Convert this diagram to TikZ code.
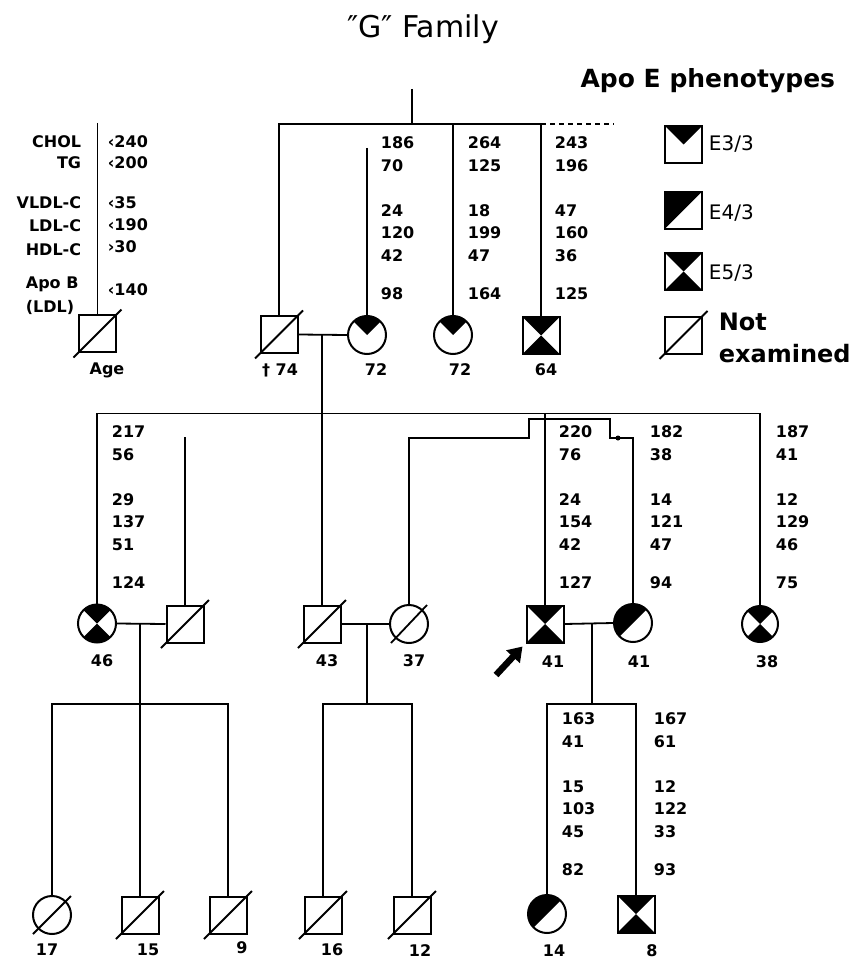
\documentclass[tikz,border=0pt]{standalone}
\usepackage{fontspec}
\setmainfont{DejaVu Sans}
\usetikzlibrary{arrows.meta}
\newcommand\vals[9]{%
  \node[num] (#1a) at (#2,#3) {#4};
  \node[num] (#1b) at (#2,#3+23) {#5};
  \node[num] (#1c) at (#2,#3+68) {#6};
  \node[num] (#1d) at (#2,#3+90) {#7};
  \node[num] (#1e) at (#2,#3+113) {#8};
  \node[num] (#1f) at (#2,#3+151) {#9};}
\begin{document}
\begin{tikzpicture}[x=1pt,y=-1pt,line width=1.8pt,
  sq/.style={draw, rectangle, minimum size=37pt, inner sep=0pt, line width=2pt},
  ci/.style={draw, circle, minimum size=38pt, inner sep=0pt, line width=2pt},
  eA/.style={path picture={\fill[black] (path picture bounding box.north west) -- (path picture bounding box.north east) -- (path picture bounding box.center) -- cycle;}},
  eB/.style={path picture={\fill[black] (path picture bounding box.north west) -- (path picture bounding box.north east) -- (path picture bounding box.south west) -- cycle;}},
  eC/.style={path picture={\fill[black] (path picture bounding box.north west) -- (path picture bounding box.north east) -- (path picture bounding box.center) -- cycle;
     \fill[black] (path picture bounding box.south west) -- (path picture bounding box.south east) -- (path picture bounding box.center) -- cycle;}},
  num/.style={anchor=west, inner sep=0pt, font=\fontsize{16}{19}\selectfont\bfseries, text height=11.7pt, text depth=0pt},
  lbl/.style={inner sep=0pt, font=\fontsize{16}{19}\selectfont\bfseries, text height=11.7pt, text depth=0pt},
  leg/.style={anchor=west, inner sep=0pt, font=\fontsize{20}{24}\selectfont, text height=14.6pt, text depth=0pt},
  bigb/.style={inner sep=0pt, font=\fontsize{24}{28}\selectfont\bfseries, text height=17.5pt, text depth=0pt}
]
\useasboundingbox[fill=white] (0,0) rectangle (853,960);

% title and legend headings
\node[anchor=base, inner sep=0pt, font=\fontsize{30}{34}\selectfont] (title) at (423,38) {″G″ Family};
\node[anchor=base east, inner sep=0pt, font=\fontsize{25}{30}\selectfont\bfseries] (apoe) at (836,88) {Apo E phenotypes};

% ---------- left key ----------
\node[sq] (key) at (97.5,333.5) {};
\coordinate (keytop) at (97.5,123);
\draw (keytop) -- (key.north);
\draw (key.center) ++(-24,24) -- ++(48,-48);
\node[lbl, anchor=east] (kCHOL) at (82,142) {CHOL};
\node[lbl, anchor=east] (kTG) at (82,163) {TG};
\node[lbl, anchor=east] (kVLDL) at (82,203) {VLDL-C};
\node[lbl, anchor=east] (kLDL) at (82,226) {LDL-C};
\node[lbl, anchor=east] (kHDL) at (82,250) {HDL-C};
\node[lbl, anchor=west] (kApoB) at (25,283) {Apo B};
\node[lbl, anchor=west] (kLDLp) at (25,307) {(LDL)};
\node[lbl, anchor=west] (v1) at (107,142) {‹240};
\node[lbl, anchor=west] (v2) at (107,163) {‹200};
\node[lbl, anchor=west] (v3) at (107,203) {‹35};
\node[lbl, anchor=west] (v4) at (107,225) {‹190};
\node[lbl, anchor=west] (v5) at (107,247) {›30};
\node[lbl, anchor=west] (v6) at (107,290) {‹140};
\node[lbl] (kAge) at (107,369) {Age};

% ---------- right key ----------
\node[sq, eA] (L1) at (683.5,144.5) {};
\node[sq, eB] (L2) at (683.5,210) {};
\node[sq, eC] (L3) at (683.5,271.5) {};
\node[sq] (L4) at (683.5,335) {};
\draw (L4.center) ++(-24,24) -- ++(48,-48);
\node[leg] (t1) at (708,143) {E3/3};
\node[leg] (t2) at (708,212) {E4/3};
\node[leg] (t3) at (708,272) {E5/3};
\node[bigb, anchor=west] (t4) at (718,322) {Not};
\node[bigb, anchor=west] (t5) at (718,354) {examined};

% ---------- generation I ----------
\node[sq] (m74) at (279,334.5) {};
\draw (m74.center) ++(-24,24) -- ++(48,-48);
\node[ci, eA] (f72) at (367,335) {};
\node[ci, eA] (g72) at (453,335) {};
\node[sq, eC] (s64) at (541,335.5) {};
\coordinate (top) at (412,89);
\coordinate (j0) at (412,124);
\coordinate (dashend) at (614,124);
\coordinate (f72top) at (367,148);
\draw (top) -- (j0);
\draw (m74.north) |- (s64.north |- j0) -- (s64.north);
\draw (g72.north) -- (g72.north |- j0);
\draw[dash pattern=on 5pt off 4pt] (s64.north |- j0) -- (dashend);
\draw (f72top) -- (f72.north);
\draw (m74.east) -- (f72.west);
\coordinate (d1) at (322,335);

\node[lbl] (a74) at (280,370) {† 74};
\node[lbl] (a72) at (376,370) {72};
\node[lbl] (b72) at (460,370) {72};
\node[lbl] (a64) at (546,370) {64};

\vals{vA}{380}{143}{186}{70}{24}{120}{42}{98}
\vals{vB}{467}{143}{264}{125}{18}{199}{47}{164}
\vals{vC}{554}{143}{243}{196}{47}{160}{36}{125}

% ---------- generation II ----------
\node[ci, eC] (c46) at (97,623.5) {};
\node[sq] (h46) at (185,624) {};
\draw (h46.center) ++(-24,24) -- ++(48,-48);
\node[sq] (s43) at (322,624) {};
\draw (s43.center) ++(-24,24) -- ++(48,-48);
\node[ci] (c37) at (409,624) {};
\draw (c37.center) ++(-18,19) -- ++(36,-38);
\node[sq, eC] (p41) at (545,624) {};
\node[ci, eB] (f41) at (633,623) {};
\node[ci, eC, minimum size=36pt] (c38) at (760,624) {};

\coordinate (sib2r) at (760,413.5);
\draw (c46.north) |- (sib2r) -- (c38.north);
\draw (d1) -- (s43.north);
\draw (p41.north) -- (p41.north |- sib2r);
\coordinate (h46top) at (185,437);
\draw (h46top) -- (h46.north);
\draw (c46.east) -- (h46.west);
\draw (s43.east) -- (c37.west);
\draw (p41.east) -- (f41.west);
% sister link 37 -- 41
\coordinate (k1) at (529,438);
\coordinate (k2) at (529,419);
\coordinate (k3) at (610,419);
\coordinate (k4) at (610,438);
\coordinate (k5) at (633,438);
\draw (c37.north) |- (k1) -- (k2) -- (k3) -- (k4) -- (k5) -- (f41.north);
\fill (618,438) circle (2.5);

% proband arrow
\coordinate (arr) at (496,675);
\draw[line width=6.5pt, -{Triangle[length=14pt,width=18pt]}] (arr) -- ([shift={(-3,3)}]p41.south west);

\node[lbl] (a46) at (102,661) {46};
\node[lbl] (a43) at (327,661) {43};
\node[lbl] (a37) at (414,661) {37};
\node[lbl] (a41) at (553,662) {41};
\node[lbl] (b41) at (639,662) {41};
\node[lbl] (a38) at (767,662) {38};

\vals{vD}{111}{432}{217}{56}{29}{137}{51}{124}
\vals{vE}{558}{432}{220}{76}{24}{154}{42}{127}
\vals{vF}{649}{432}{182}{38}{14}{121}{47}{94}
\vals{vG}{775}{432}{187}{41}{12}{129}{46}{75}

% ---------- generation III ----------
\node[ci] (c17) at (52,915) {};
\draw (c17.center) ++(-19,19) -- ++(38,-38);
\node[sq] (s15) at (140,915) {};
\draw (s15.center) ++(-24,24) -- ++(48,-48);
\node[sq] (s9) at (228,915) {};
\draw (s9.center) ++(-24,24) -- ++(48,-48);
\node[sq] (s16) at (323,915) {};
\draw (s16.center) ++(-24,24) -- ++(48,-48);
\node[sq] (s12) at (412,915) {};
\draw (s12.center) ++(-24,24) -- ++(48,-48);
\node[ci, eB] (c14) at (547,914) {};
\node[sq, eC] (s8) at (636,914) {};

\coordinate (d2) at (140,624);
\coordinate (sib3a) at (228,704);
\draw (d2) -- (s15.north);
\draw (c17.north) |- (sib3a) -- (s9.north);
\coordinate (d3) at (367,624);
\coordinate (sib3b) at (412,704);
\draw (d3) -- (d3 |- sib3b);
\draw (s16.north) |- (sib3b) -- (s12.north);
\coordinate (d4) at (592,624);
\coordinate (sib3c) at (636,704);
\draw (d4) -- (d4 |- sib3c);
\draw (c14.north) |- (sib3c) -- (s8.north);

\node[lbl] (a17) at (47,950) {17};
\node[lbl] (a15) at (148,950) {15};
\node[lbl] (a9) at (242,948) {9};
\node[lbl] (a16) at (332,950) {16};
\node[lbl] (a12) at (420,951) {12};
\node[lbl] (a14) at (554,951) {14};
\node[lbl] (a8) at (652,951) {8};

\vals{vH}{561}{719}{163}{41}{15}{103}{45}{82}
\vals{vI}{653}{719}{167}{61}{12}{122}{33}{93}
\end{tikzpicture}
\end{document}
